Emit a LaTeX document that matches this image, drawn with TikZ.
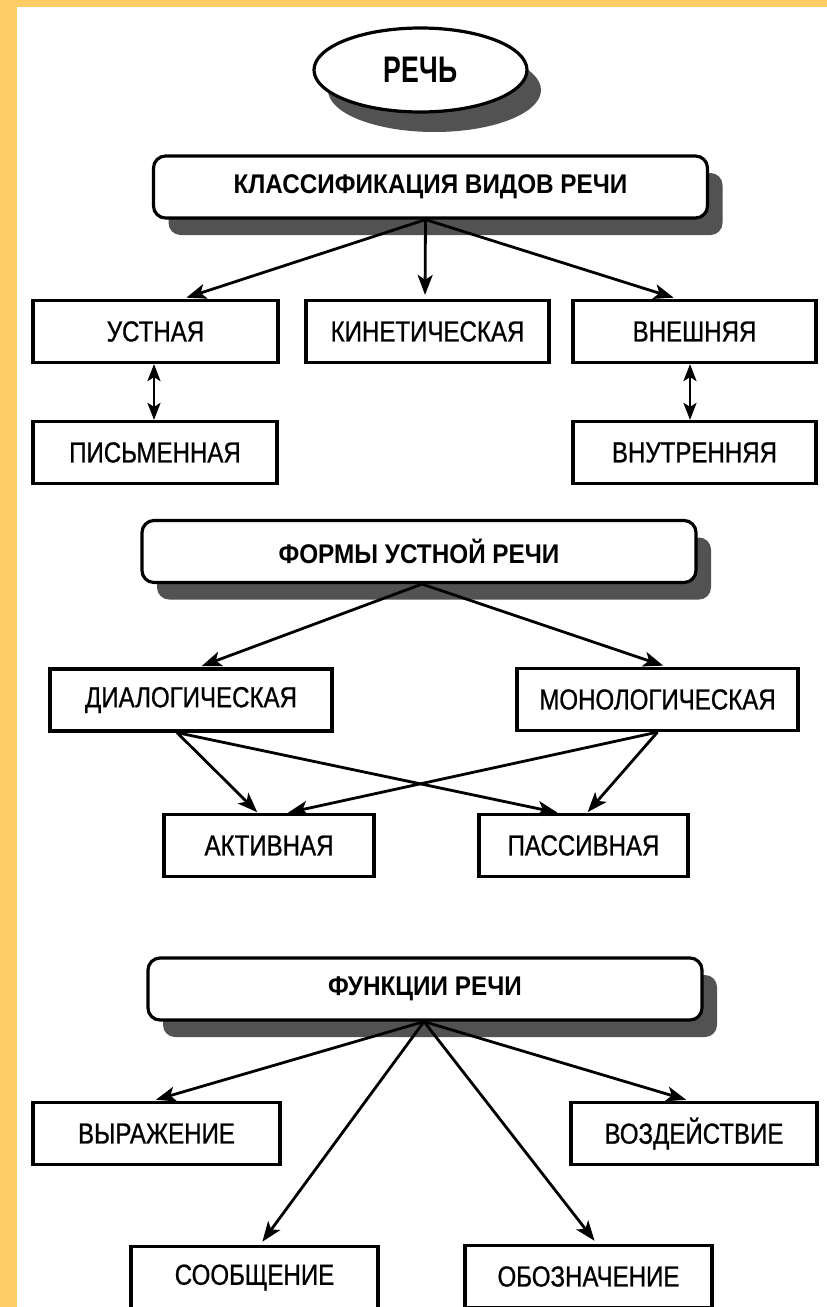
\documentclass[tikz,border=0pt]{standalone}
\usepackage{fontspec}
\setmainfont{Liberation Sans}
\newfontfamily\boxfont[FakeStretch=0.83,FakeBold=0.8]{Liberation Sans}
\newfontfamily\headfont[FakeStretch=0.9]{Liberation Sans}
\newfontfamily\titlefont[FakeStretch=0.72]{Liberation Sans}
\usetikzlibrary{arrows.meta,shadows,shapes.geometric}

\def \pagew {827}
\def \pageh {1307}
\def \boxh {62pt}
\def \headw {554pt}
\definecolor{framecolor}{HTML}{FFCC66}
\definecolor{shadecolor}{gray}{0.32}

\begin{document}
\begin{tikzpicture}[x=1pt,y=-1pt,
  shade/.style={drop shadow={shadow xshift=15pt,shadow yshift=-17pt,fill=shadecolor,opacity=1}},
  head/.style={draw,line width=3.2pt,rounded corners=12pt,fill=white,minimum width=\headw,
    minimum height=\boxh,inner sep=0pt,font=\headfont\bfseries\fontsize{27}{32}\selectfont,shade},
  item/.style={draw,line width=3.2pt,fill=white,minimum width=#1,minimum height=\boxh,
    inner sep=0pt,font=\boxfont\fontsize{29}{34}\selectfont},
  arr/.style={-{Stealth[length=20pt,width=15pt,inset=5pt]},line width=2.8pt,shorten >=4pt},
  twoway/.style={{Stealth[length=17pt,width=13pt,inset=4pt]}-{Stealth[length=17pt,width=13pt,inset=4pt]},line width=2.8pt}]
\useasboundingbox (0,0) rectangle (\pagew,\pageh);
\clip (0,0) rectangle (\pagew,\pageh);
% yellow frame round the paper
\fill[framecolor] (0,0) rectangle (\pagew,\pageh);
\fill[white] (17,7) rectangle (\pagew,\pageh);

% title
\node[ellipse,draw,line width=3.2pt,fill=white,minimum width=213pt,minimum height=84pt,inner sep=0pt,
  font=\titlefont\bfseries\fontsize{37}{40}\selectfont,
  drop shadow={shadow xshift=14pt,shadow yshift=-20pt,fill=shadecolor,opacity=1}] (rech) at (420.5,70) {РЕЧЬ};

% kinds of speech
\node[head] (klass) at (430.5,187) {КЛАССИФИКАЦИЯ ВИДОВ РЕЧИ};
\node[item=245pt] (ustn) at (155.5,331.5) {УСТНАЯ};
\node[item=243pt] (kinet) at (427.5,331.5) {КИНЕТИЧЕСКАЯ};
\node[item=243pt] (vnesh) at (694.5,331.5) {ВНЕШНЯЯ};
\node[item=244pt] (pism) at (155,452.5) {ПИСЬМЕННАЯ};
\node[item=243pt] (vnutr) at (694.5,452.5) {ВНУТРЕННЯЯ};

\draw[arr] ([xshift=-5pt]klass.south) -- ([xshift=27pt]ustn.north);
\draw[arr] ([xshift=-5pt]klass.south) -- ([xshift=-2.5pt]kinet.north);
\draw[arr] ([xshift=-5pt]klass.south) -- ([xshift=-17pt]vnesh.north);
\draw[twoway] ([xshift=-1.5pt]ustn.south) -- ([xshift=-1pt]pism.north);
\draw[twoway] ([xshift=-4.5pt]vnesh.south) -- ([xshift=-4.5pt]vnutr.north);

% forms of oral speech
\node[head] (formy) at (419,551.5) {ФОРМЫ УСТНОЙ РЕЧИ};
\node[item=282pt] (dialog) at (191,700) {ДИАЛОГИЧЕСКАЯ};
\node[item=281pt] (monolog) at (657.5,699.5) {МОНОЛОГИЧЕСКАЯ};
\node[item=210pt] (aktiv) at (269,845.5) {АКТИВНАЯ};
\node[item=209pt] (passiv) at (583.5,845.5) {ПАССИВНАЯ};

\draw[arr] ([xshift=3pt]formy.south) -- ([xshift=7pt]dialog.north);
\draw[arr] ([xshift=3pt]formy.south) -- ([xshift=9.5pt]monolog.north);
\draw[arr,shorten >=1pt] ([xshift=-14pt]dialog.south) -- ([xshift=-11pt]aktiv.north);
\draw[arr,shorten >=1pt] ([xshift=-14pt]dialog.south) -- ([xshift=-25pt]passiv.north);
\draw[arr,shorten >=1pt] (monolog.south) -- ([xshift=3.5pt]passiv.north);
\draw[arr,shorten >=1pt] (monolog.south) -- ([xshift=18pt]aktiv.north);

% functions of speech
\node[head] (funk) at (425,989) {ФУНКЦИИ РЕЧИ};
\node[item=247pt] (vyraz) at (156.5,1133.5) {ВЫРАЖЕНИЕ};
\node[item=246pt] (vozd) at (694,1133.5) {ВОЗДЕЙСТВИЕ};
\node[item=247pt] (soob) at (254.5,1277.5) {СООБЩЕНИЕ};
\node[item=247pt] (oboz) at (588.5,1276.5) {ОБОЗНАЧЕНИЕ};

\draw[arr] ([xshift=-1pt]funk.south) -- ([xshift=-4.5pt]vyraz.north);
\draw[arr] ([xshift=-1pt]funk.south) -- ([xshift=-4pt]vozd.north);
\draw[arr] ([xshift=-1pt]funk.south) -- ([xshift=5.5pt]soob.north);
\draw[arr] ([xshift=-1pt]funk.south) -- ([xshift=8.5pt]oboz.north);
\end{tikzpicture}
\end{document}
